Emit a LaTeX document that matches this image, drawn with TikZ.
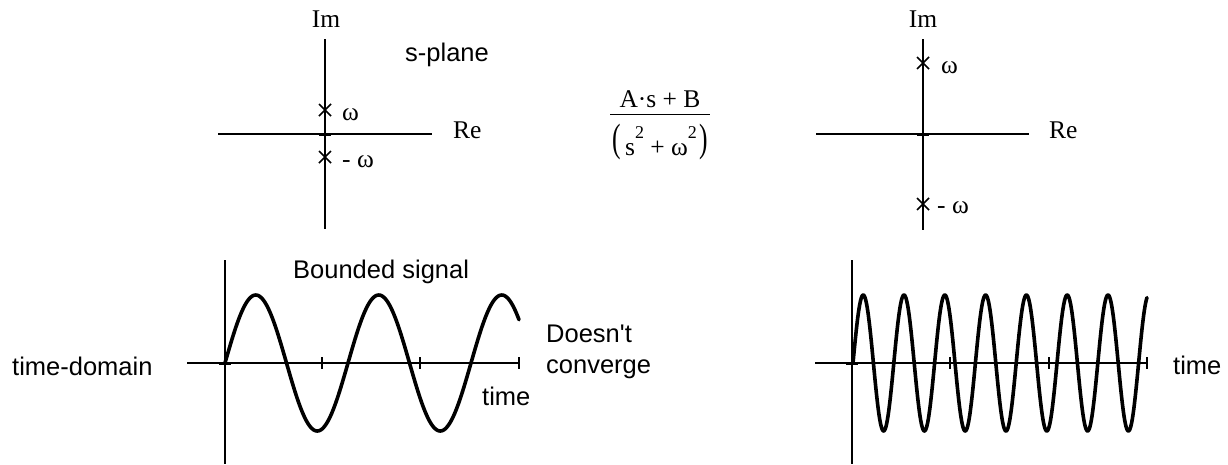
\documentclass[tikz,border=0pt]{standalone}
\usepackage{graphicx}
\usepackage{fontspec}
\setmainfont{Liberation Sans}
\newfontfamily\tnr{Liberation Serif}
\newcommand{\supii}{\raisebox{17pt}{\fontsize{18}{20}\selectfont 2}}
\begin{document}
\begin{tikzpicture}[x=1pt,y=-1pt,
  axis/.style={line width=1.6pt},
  wave/.style={line width=3.6pt,line cap=round,line join=round},
  pole/.style={line width=1.6pt},
  sans/.style={inner sep=0pt,font=\fontsize{25.5}{30}\selectfont},
  serif/.style={inner sep=0pt,font=\tnr\fontsize{25.5}{30}\selectfont}]
\useasboundingbox (0,0) rectangle (1228,464);
% ---------- left s-plane ----------
\coordinate (lT) at (325,39); \coordinate (lB) at (325,229);
\coordinate (lL) at (218,134); \coordinate (lR) at (432,134);
\draw[axis] (lT) -- (lB);
\draw[axis] (lL) -- (lR);
\draw[line width=3pt] (319,134) -- (331,134);
\draw[pole] (319,104) -- (331,116) (319,116) -- (331,104);
\draw[pole] (319,151) -- (331,163) (319,163) -- (331,151);
\node[serif,anchor=base] (lIm) at (326,27) {Im};
\node[serif,anchor=base west] (lRe) at (453,138) {Re};
\node[serif,anchor=base west] (lw) at (342,120) {ω};
\node[serif,anchor=base west] (lmw) at (342,167) {- ω};
\node[sans,anchor=base west] (splane) at (405,61) {s-plane};
% ---------- fraction ----------
\node[serif,anchor=base] (num) at (660,107) {A·s + B};
\coordinate (barL) at (610,114.3); \coordinate (barR) at (710,114.3);
\draw[line width=1.2pt] (barL) -- (barR);
\node[serif,anchor=base] (den) at (661,155) {s\supii{} + ω\supii};
\node[serif] (lp) at (616.5,141.5) {\scalebox{1}[1.55]{(}};
\node[serif] (rp) at (703.5,141.5) {\scalebox{1}[1.55]{)}};
% ---------- right s-plane ----------
\coordinate (rT) at (923,39); \coordinate (rB) at (923,230);
\coordinate (rL) at (816,134); \coordinate (rR) at (1029,134);
\draw[axis] (rT) -- (rB);
\draw[axis] (rL) -- (rR);
\draw[line width=3pt] (917,134) -- (929,134);
\draw[pole] (917,57) -- (929,69) (917,69) -- (929,57);
\draw[pole] (917,198) -- (929,210) (917,210) -- (929,198);
\node[serif,anchor=base] (rIm) at (923,27) {Im};
\node[serif,anchor=base west] (rRe) at (1049,138) {Re};
\node[serif,anchor=base west] (rw) at (941,73) {ω};
\node[serif,anchor=base west] (rmw) at (937,213) {- ω};
% ---------- left time plot ----------
\coordinate (tlT) at (225,260); \coordinate (tlB) at (225,464);
\coordinate (tlL) at (187,363); \coordinate (tlR) at (519,363);
\draw[axis] (tlT) -- (tlB);
\draw[axis] (tlL) -- (tlR);
\draw[line width=3pt] (219,363) -- (231,363);
\foreach \t in {322,420,519} \draw[axis] (\t,357) -- (\t,369);
\draw[wave] plot[domain=225:519,samples=240] (\x,{363-68*sin((\x-225)/123*360)});
\node[sans,anchor=base west] (td) at (12,375) {time-domain};
\node[sans,anchor=base west] (bs) at (293,278) {Bounded signal};
\node[sans,anchor=base west] (dn) at (546,342) {Doesn\textquotesingle t};
\node[sans,anchor=base west] (cv) at (546,373) {converge};
\node[sans,anchor=base west] (tl) at (482,405) {time};
% ---------- right time plot ----------
\coordinate (trT) at (852,260); \coordinate (trB) at (852,464);
\coordinate (trL) at (815,363); \coordinate (trR) at (1147,363);
\draw[axis] (trT) -- (trB);
\draw[axis] (trL) -- (trR);
\draw[line width=3pt] (846,363) -- (858,363);
\foreach \t in {950,1049,1147} \draw[axis] (\t,357) -- (\t,369);
\draw[wave] plot[domain=853:1147,samples=600] (\x,{363-68*sin((\x-853)/40.8*360)});
\node[sans,anchor=base west] (tr) at (1173,374) {time};
\end{tikzpicture}
\end{document}
